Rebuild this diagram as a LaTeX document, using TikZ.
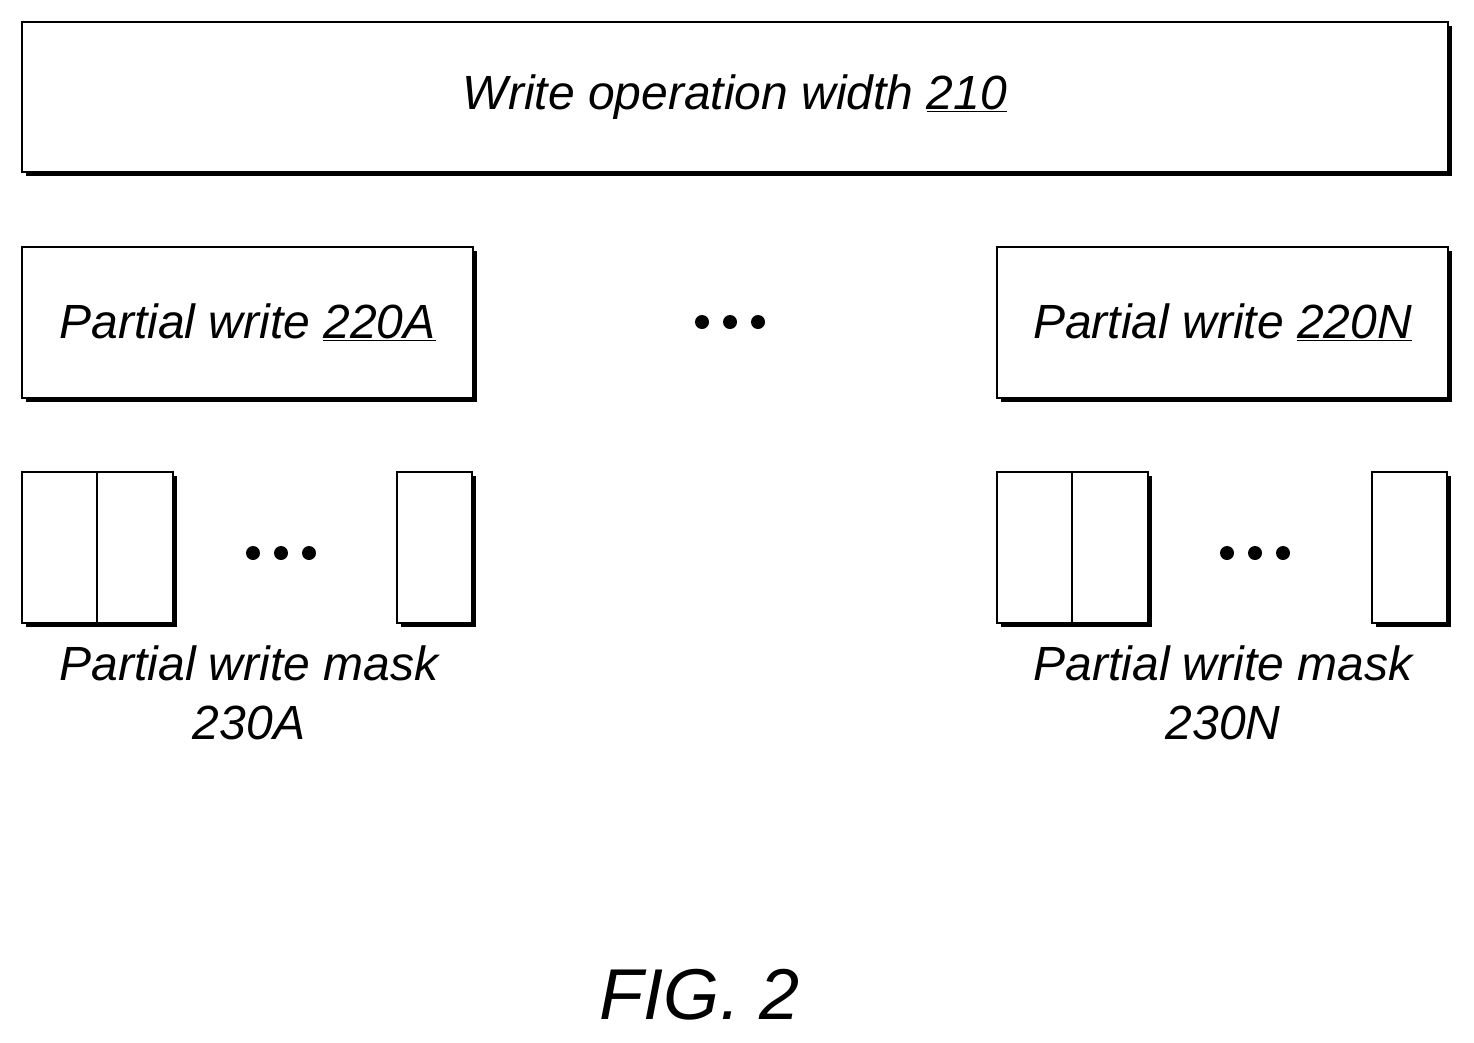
\documentclass[tikz,border=0pt]{standalone}
\usepackage{fontspec}
\setmainfont{Liberation Sans}
\begin{document}
\begin{tikzpicture}[x=1pt,y=-1pt,
  box/.style={draw,line width=2.5pt,fill=white},
  lbl/.style={font=\fontsize{48}{59}\selectfont\itshape,inner sep=0pt},
  dot/.style={circle,fill=black,inner sep=0pt,minimum size=14pt}]
\useasboundingbox (0,0) rectangle (1474,1042);
\newcommand{\shbox}[5]{%
  \fill (#1+4,#2+4) rectangle (#3+4,#4+4);
  \draw[box] (#1,#2) rectangle (#3,#4);
  \coordinate (#5) at ({(#1+#3)/2},{(#2+#4)/2});}
\shbox{22}{22}{1448}{172}{top}
\node[lbl] at (top) {Write operation width \underline{210}};
\shbox{22}{247}{473}{398}{pa}
\node[lbl] at (pa) {Partial write \underline{220A}};
\shbox{997}{247}{1448}{398}{pn}
\node[lbl] at (pn) {Partial write \underline{220N}};
\foreach \x in {702,730,758} \node[dot] at (\x,322) {};
\shbox{22}{472}{173}{623}{ma}
\draw[line width=2.5pt] (97,472) -- (97,623);
\shbox{397}{472}{472}{623}{mb}
\shbox{997}{472}{1148}{623}{mc}
\draw[line width=2.5pt] (1072,472) -- (1072,623);
\shbox{1372}{472}{1447}{623}{md}
\foreach \x in {253,281,309} \node[dot] at (\x,553) {};
\foreach \x in {1227,1255,1283} \node[dot] at (\x,553) {};
\node[lbl,align=center] (la) at (249,693) {Partial write mask\\230A};
\node[lbl,align=center] (ln) at (1223,693) {Partial write mask\\230N};
\node[font=\fontsize{72}{80}\selectfont\itshape,inner sep=0pt] (fig) at (700,995) {FIG. 2};
\end{tikzpicture}
\end{document}
